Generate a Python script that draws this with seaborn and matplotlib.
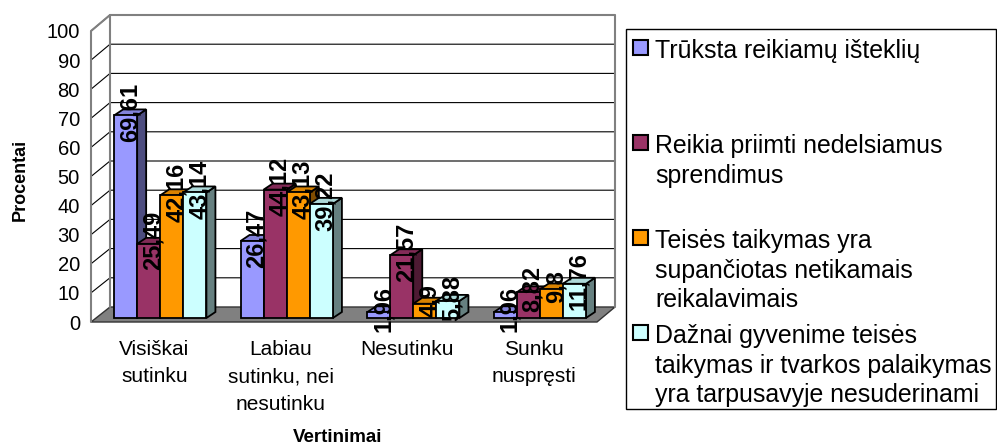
import matplotlib
matplotlib.use("Agg")
import matplotlib.pyplot as plt
import matplotlib.colors as mcolors
from matplotlib.patches import Polygon, Rectangle
import pandas as pd
import seaborn as sns

# Data (percent)
categories = ["Visiškai\nsutinku", "Labiau\nsutinku, nei\nnesutinku", "Nesutinku", "Sunku\nnuspręsti"]
series = ["Trūksta reikiamų išteklių",
          "Reikia priimti nedelsiamus\nsprendimus",
          "Teisės taikymas yra\nsupančiotas netikamais\nreikalavimais",
          "Dažnai gyvenime teisės\ntaikymas ir tvarkos palaikymas\nyra tarpusavyje nesuderinami"]
vals_istekliu = [69.61, 26.47, 1.96, 1.96]
vals_sprendimai = [25.49, 44.12, 21.57, 8.82]
vals_reikalavimai = [42.16, 43.13, 4.9, 9.8]
vals_nesuderinami = [43.14, 39.22, 5.88, 11.76]
colors = ["#9999FF", "#993366", "#FF9900", "#CCFFFF"]
y_ticks = list(range(0, 101, 10))

df = pd.DataFrame({
    "Vertinimai": categories * 4,
    "Procentai": vals_istekliu + vals_sprendimai + vals_reikalavimai + vals_nesuderinami,
    "Grupe": [s for s in series for _ in categories],
})

sns.set_style("white")
plt.rcParams["font.family"] = ["Liberation Sans", "DejaVu Sans"]
plt.rcParams["text.color"] = "black"
plt.rcParams["xtick.labelcolor"] = "black"
plt.rcParams["ytick.labelcolor"] = "black"

W, H = 997, 446
fig = plt.figure(figsize=(W / 100, H / 100), dpi=100)


def rect(l, t, r, b):
    return [l / W, 1 - b / H, (r - l) / W, (b - t) / H]


# pixel layout of the fake 3D box
FL, FR, FT, FB = 91, 597, 31, 322      # front plane (axis)
BL, BR, BT, BB = 110, 615, 15, 307     # back wall


def yf(v):
    return FB - v / 100 * (FB - FT)


def yb(v):
    return BB - v / 100 * (BB - BT)


# background axes in pixel coordinates for walls, floor and legend
bg = fig.add_axes([0, 0, 1, 1], zorder=0)
bg.set_xlim(0, W)
bg.set_ylim(H, 0)
bg.axis("off")

for v in y_ticks[1:]:
    bg.plot([FL, BL, BR], [yf(v), yb(v), yb(v)], color="black", lw=0.8)
bg.plot([FL, FL, BL, BR, BR], [FB, FT, BT, BT, BB], color="#808080", lw=1.5)
bg.plot([BL, BL], [BT, BB], color="#808080", lw=1.5)
bg.add_patch(Polygon([(FL, FB), (FR, FB), (BR, BB), (BL, BB)], closed=True,
                     facecolor="#808080", edgecolor="#333333", lw=1))

# front axis: ticks and labels
axf = fig.add_axes(rect(FL, FT, FR, FB), zorder=2)
axf.patch.set_alpha(0)
axf.set_xlim(-0.5, 3.5)
axf.set_ylim(0, 100)
axf.set_yticks(y_ticks)
axf.tick_params(axis="y", labelsize=14.5, length=6, pad=2, color="#555555", width=1)
axf.set_xticks(range(4))
axf.set_xticklabels(categories, fontsize=15, linespacing=1.55)
axf.set_xticks([i - 0.5 for i in range(5)], minor=True)
axf.tick_params(axis="x", which="major", length=0, pad=13)
axf.tick_params(axis="x", which="minor", length=6, color="#333333", width=1)
for s in ["top", "right", "bottom", "left"]:
    axf.spines[s].set_visible(False)

# bars sit a little behind the front plane
ox, oy = 6, -4
ax = fig.add_axes(rect(FL + ox, FT + oy, FR + ox, FB + oy), zorder=3)
ax.patch.set_alpha(0)
sns.barplot(data=df, x="Vertinimai", y="Procentai", hue="Grupe", order=categories,
            hue_order=series, palette=colors, saturation=1, width=0.73, gap=0,
            edgecolor="black", linewidth=1.3, legend=False, ax=ax)
ax.set_xlim(-0.5, 3.5)
ax.set_ylim(0, 100)
ax.axis("off")

px_x = (FR - FL) / 4
px_y = (FB - FT) / 100
ddx, ddy = 9 / px_x, 6 / px_y

bars = sorted(ax.patches, key=lambda p: p.get_x())
for k, p in enumerate(bars):
    x0, w, h = p.get_x(), p.get_width(), p.get_height()
    x1 = x0 + w
    fc = mcolors.to_rgb(p.get_facecolor())
    side = tuple(c * 0.5 for c in fc)
    top = tuple(c * 0.85 for c in fc)
    ax.add_patch(Polygon([(x1, 0), (x1 + ddx, ddy), (x1 + ddx, h + ddy), (x1, h)],
                         closed=True, facecolor=side, edgecolor="black", lw=1.3,
                         zorder=2 + 3 * k, clip_on=False))
    ax.add_patch(Polygon([(x0, h), (x1, h), (x1 + ddx, h + ddy), (x0 + ddx, h + ddy)],
                         closed=True, facecolor=top, edgecolor="black", lw=1.3,
                         zorder=3 + 3 * k, clip_on=False))
    p.set_zorder(4 + 3 * k)
    p.set_clip_on(False)
    lab = f"{h:g}".replace(".", ",")
    ax.text(x0 + w / 2 + ddx / 2, h + ddy / 2, lab, rotation=90, ha="center", va="center",
            fontsize=17, fontweight="bold", color="black", zorder=200, clip_on=False)

# axis titles
fig.text(20 / W, 1 - 180 / H, "Procentai", rotation=90, ha="center", va="center",
         fontsize=13, fontweight="bold")
fig.text(338 / W, 1 - 437 / H, "Vertinimai", ha="center", va="center",
         fontsize=13.5, fontweight="bold")

# legend box, entries spread like the original
bg.add_patch(Rectangle((626, 29), 370, 380, facecolor="white", edgecolor="black", lw=1))
for i, (s, c) in enumerate(zip(series, colors)):
    ty = 40 + 95 * i
    bg.add_patch(Rectangle((633, ty), 15, 15, facecolor=c, edgecolor="black", lw=1.5))
    bg.text(655, ty - 1, s, ha="left", va="top", fontsize=17.9, linespacing=1.3)

fig.savefig("out.png", dpi=100)
